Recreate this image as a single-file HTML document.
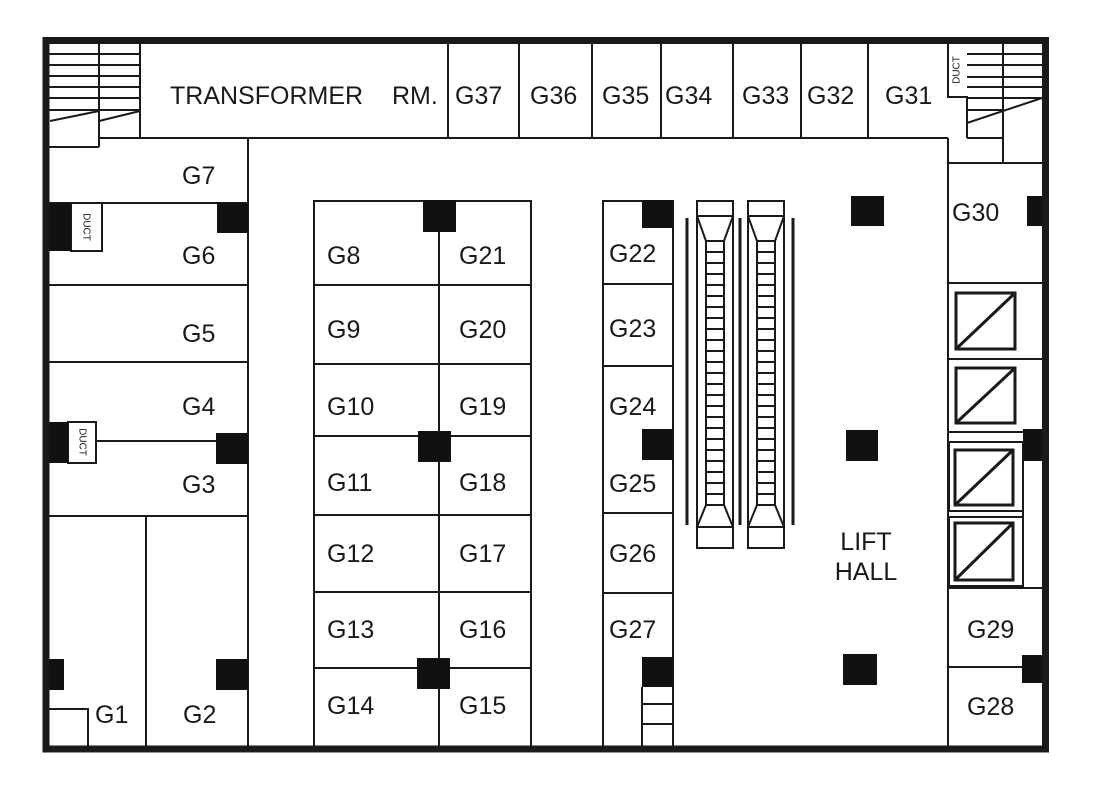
<!DOCTYPE html>
<html><head><meta charset="utf-8"><style>html,body{margin:0;padding:0;background:#fff}svg{display:block}</style></head><body>
<svg width="1094" height="794" viewBox="0 0 1094 794" xmlns="http://www.w3.org/2000/svg" font-family="Liberation Sans, sans-serif" font-size="25" fill="#1a1a1a">
<rect width="1094" height="794" fill="#fff"/>
<g stroke="#1a1a1a" stroke-width="2" fill="none">
<line x1="140" y1="138" x2="948" y2="138"/>
<line x1="140" y1="44" x2="140" y2="138"/>
<line x1="448" y1="44" x2="448" y2="138"/>
<line x1="519" y1="44" x2="519" y2="138"/>
<line x1="592" y1="44" x2="592" y2="138"/>
<line x1="661" y1="44" x2="661" y2="138"/>
<line x1="733" y1="44" x2="733" y2="138"/>
<line x1="801" y1="44" x2="801" y2="138"/>
<line x1="868" y1="44" x2="868" y2="138"/>
<line x1="99" y1="44" x2="99" y2="147"/>
<line x1="49" y1="147" x2="99" y2="147"/>
<line x1="49" y1="54" x2="140" y2="54"/><line x1="49" y1="65" x2="140" y2="65"/><line x1="49" y1="76" x2="140" y2="76"/><line x1="49" y1="87" x2="140" y2="87"/><line x1="49" y1="98" x2="140" y2="98"/><line x1="49" y1="110" x2="140" y2="110"/>
<line x1="50" y1="121" x2="99" y2="111"/><line x1="99" y1="121" x2="140" y2="111"/>
<polyline points="948,44 948,97 967,97 967,138"/>
<line x1="1003" y1="44" x2="1003" y2="163"/>
<line x1="967" y1="54" x2="1042" y2="54"/><line x1="967" y1="65" x2="1042" y2="65"/><line x1="967" y1="77" x2="1042" y2="77"/><line x1="967" y1="87" x2="1042" y2="87"/><line x1="967" y1="98" x2="1042" y2="98"/><line x1="967" y1="110" x2="1003" y2="110"/>
<line x1="967" y1="123" x2="1042" y2="98"/>
<line x1="967" y1="138" x2="1003" y2="138"/>
<line x1="948" y1="163" x2="1042" y2="163"/>
<line x1="948" y1="138" x2="948" y2="749"/>
<line x1="99" y1="138" x2="248" y2="138"/>
<line x1="248" y1="138" x2="248" y2="749"/>
<line x1="49" y1="203" x2="248" y2="203"/>
<line x1="49" y1="285" x2="248" y2="285"/>
<line x1="49" y1="362" x2="248" y2="362"/>
<line x1="96" y1="441" x2="216" y2="441"/>
<line x1="49" y1="516" x2="248" y2="516"/>
<line x1="146" y1="516" x2="146" y2="749"/>
<polyline points="49,709 88,709 88,749"/>
<rect x="71" y="203" width="31" height="48"/>
<rect x="68" y="422" width="28" height="41"/>
<rect x="314" y="201" width="217" height="548"/>
<line x1="439" y1="201" x2="439" y2="749"/>
<line x1="314" y1="285" x2="531" y2="285"/>
<line x1="314" y1="364" x2="531" y2="364"/>
<line x1="314" y1="436" x2="531" y2="436"/>
<line x1="314" y1="515" x2="531" y2="515"/>
<line x1="314" y1="592" x2="531" y2="592"/>
<line x1="314" y1="668" x2="531" y2="668"/>
<rect x="603" y="201" width="70" height="548"/>
<line x1="603" y1="284" x2="673" y2="284"/>
<line x1="603" y1="366" x2="673" y2="366"/>
<line x1="603" y1="513" x2="673" y2="513"/>
<line x1="603" y1="593" x2="673" y2="593"/>
<line x1="642" y1="687" x2="642" y2="749"/>
<line x1="642" y1="704" x2="673" y2="704"/>
<line x1="642" y1="724" x2="673" y2="724"/>
<line x1="948" y1="283" x2="1042" y2="283"/>
<line x1="948" y1="359" x2="1042" y2="359"/>
<line x1="948" y1="432" x2="1023" y2="432"/>
<rect x="949" y="442" width="74" height="69"/>
<rect x="949" y="517" width="74" height="69"/>
<line x1="1023" y1="461" x2="1023" y2="588"/>
<line x1="948" y1="588" x2="1042" y2="588"/>
<line x1="948" y1="667" x2="1022" y2="667"/>
</g>
<g stroke="#1a1a1a" stroke-width="3" fill="none">
<rect x="956" y="293" width="59" height="56"/><line x1="956" y1="349" x2="1015" y2="293"/>
<rect x="956" y="368" width="59" height="55"/><line x1="956" y1="423" x2="1015" y2="368"/>
<rect x="955" y="450" width="58" height="55"/><line x1="955" y1="505" x2="1013" y2="450"/>
<rect x="955" y="523" width="58" height="57"/><line x1="955" y1="580" x2="1013" y2="523"/>
<line x1="687" y1="218" x2="687" y2="525"/>
<line x1="740" y1="218" x2="740" y2="525"/>
<line x1="793" y1="218" x2="793" y2="525"/>
</g>
<g stroke="#1a1a1a" stroke-width="2" fill="none" id="esc">
<rect x="697" y="201" width="36" height="347"/>
<line x1="697" y1="216" x2="733" y2="216"/><line x1="697" y1="527" x2="733" y2="527"/>
<rect x="706" y="241" width="18" height="264"/>
<line x1="697" y1="216" x2="706" y2="241"/><line x1="733" y1="216" x2="724" y2="241"/>
<line x1="697" y1="527" x2="706" y2="505"/><line x1="733" y1="527" x2="724" y2="505"/>
<path d="M706 252h18M706 263h18M706 274h18M706 285h18M706 296h18M706 307h18M706 318h18M706 329h18M706 340h18M706 351h18M706 362h18M706 373h18M706 384h18M706 395h18M706 406h18M706 417h18M706 428h18M706 439h18M706 450h18M706 461h18M706 472h18M706 483h18M706 494h18"/>
</g>
<use href="#esc" transform="translate(51,0)"/>
<g fill="#111">
<rect x="49" y="203" width="22" height="48"/>
<rect x="217" y="203" width="31" height="30"/>
<rect x="49" y="422" width="19" height="41"/>
<rect x="216" y="433" width="32" height="31"/>
<rect x="49" y="659" width="15" height="31"/>
<rect x="216" y="659" width="32" height="31"/>
<rect x="423" y="200" width="33" height="32"/>
<rect x="418" y="431" width="33" height="31"/>
<rect x="417" y="658" width="33" height="31"/>
<rect x="642" y="200" width="31" height="28"/>
<rect x="642" y="429" width="31" height="31"/>
<rect x="642" y="657" width="31" height="30"/>
<rect x="851" y="196" width="33" height="30"/>
<rect x="846" y="430" width="32" height="31"/>
<rect x="843" y="654" width="34" height="31"/>
<rect x="1027" y="196" width="15" height="30"/>
<rect x="1023" y="429" width="19" height="32"/>
<rect x="1022" y="655" width="20" height="28"/>
</g>
<rect x="46" y="40.5" width="999.5" height="708.5" fill="none" stroke="#1a1a1a" stroke-width="7"/>
<g font-size="10" text-anchor="middle" dominant-baseline="central">
<text transform="translate(86,227) rotate(90)">DUCT</text>
<text transform="translate(82,442) rotate(90)">DUCT</text>
<text transform="translate(957,70) rotate(-90)">DUCT</text>
</g>
<g dominant-baseline="central">
<text x="170" y="96">TRANSFORMER</text>
<text x="392" y="96">RM.</text>
<text x="455" y="96">G37</text>
<text x="530" y="96">G36</text>
<text x="602" y="96">G35</text>
<text x="665" y="96">G34</text>
<text x="742" y="96">G33</text>
<text x="807" y="96">G32</text>
<text x="885" y="96">G31</text>
<text x="182" y="176">G7</text>
<text x="182" y="256">G6</text>
<text x="182" y="334">G5</text>
<text x="182" y="407">G4</text>
<text x="182" y="485">G3</text>
<text x="95" y="715">G1</text>
<text x="183" y="715">G2</text>
<text x="327" y="256">G8</text><text x="459" y="256">G21</text>
<text x="327" y="330">G9</text><text x="459" y="330">G20</text>
<text x="327" y="407">G10</text><text x="459" y="407">G19</text>
<text x="327" y="483">G11</text><text x="459" y="483">G18</text>
<text x="327" y="554">G12</text><text x="459" y="554">G17</text>
<text x="327" y="630">G13</text><text x="459" y="630">G16</text>
<text x="327" y="706">G14</text><text x="459" y="706">G15</text>
<text x="609" y="254">G22</text>
<text x="609" y="329">G23</text>
<text x="609" y="407">G24</text>
<text x="609" y="484">G25</text>
<text x="609" y="554">G26</text>
<text x="609" y="630">G27</text>
<text x="866" y="542" text-anchor="middle">LIFT</text>
<text x="866" y="572" text-anchor="middle">HALL</text>
<text x="952" y="213">G30</text>
<text x="967" y="630">G29</text>
<text x="967" y="707">G28</text>
</g>
</svg>
</body></html>
